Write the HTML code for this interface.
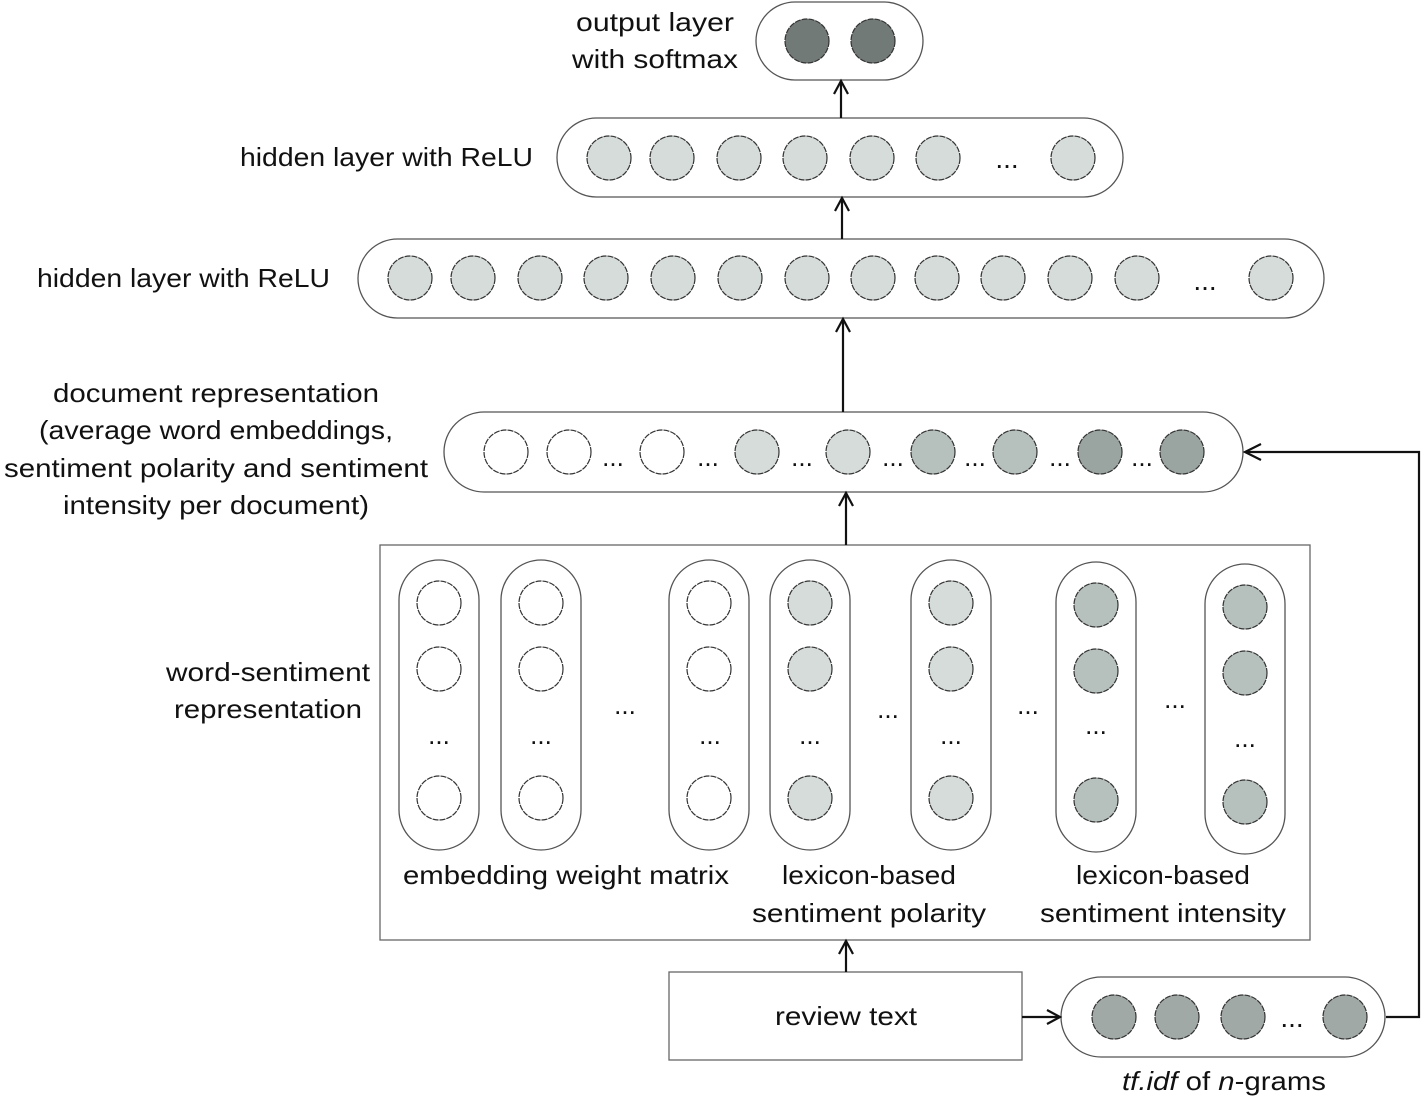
<!DOCTYPE html>
<html><head><meta charset="utf-8"><style>
html,body{margin:0;padding:0;background:#fff;}
svg{display:block;}
text{font-family:"Liberation Sans",sans-serif;font-size:26px;fill:#111;}
.p{fill:#fff;stroke:#555;stroke-width:1.3;}
.c{stroke:#333;stroke-width:1.2;stroke-dasharray:6 1;}
.w{fill:#fff}.l{fill:#d5dcd9}.m{fill:#b6c0bd}.d{fill:#9aa4a1}.t{fill:#a1a9a7}.o{fill:#727a77}
.a{stroke:#111;stroke-width:2.2;fill:none;}
.dot{font-size:28px;font-weight:normal;}
</style></head><body>
<svg width="1425" height="1108" viewBox="0 0 1425 1108" xmlns="http://www.w3.org/2000/svg">
<rect class="p" x="756" y="2" width="167" height="78" rx="39"/>
<circle class="c o" cx="807" cy="41" r="22"/><circle class="c o" cx="873" cy="41" r="22"/>
<text x="655" y="31" text-anchor="middle" textLength="158" lengthAdjust="spacingAndGlyphs">output layer</text>
<text x="655" y="68" text-anchor="middle" textLength="166" lengthAdjust="spacingAndGlyphs">with softmax</text>
<rect class="p" x="557" y="118" width="566" height="79" rx="39.5"/>
<g class="c l">
<circle cx="609" cy="158" r="22"/><circle cx="672" cy="158" r="22"/><circle cx="739" cy="158" r="22"/><circle cx="805" cy="158" r="22"/><circle cx="872" cy="158" r="22"/><circle cx="938" cy="158" r="22"/><circle cx="1073" cy="158" r="22"/>
</g>
<text class="dot" x="1007" y="168" text-anchor="middle">...</text>
<text x="533" y="166" text-anchor="end" textLength="293" lengthAdjust="spacingAndGlyphs">hidden layer with ReLU</text>
<rect class="p" x="358" y="239" width="966" height="79" rx="39.5"/>
<g class="c l">
<circle cx="410" cy="278" r="22"/><circle cx="473" cy="278" r="22"/><circle cx="540" cy="278" r="22"/><circle cx="606" cy="278" r="22"/><circle cx="673" cy="278" r="22"/><circle cx="740" cy="278" r="22"/><circle cx="807" cy="278" r="22"/><circle cx="873" cy="278" r="22"/><circle cx="937" cy="278" r="22"/><circle cx="1003" cy="278" r="22"/><circle cx="1070" cy="278" r="22"/><circle cx="1137" cy="278" r="22"/><circle cx="1271" cy="278" r="22"/>
</g>
<text class="dot" x="1205" y="290" text-anchor="middle">...</text>
<text x="330" y="287" text-anchor="end" textLength="293" lengthAdjust="spacingAndGlyphs">hidden layer with ReLU</text>
<rect class="p" x="444" y="412" width="799" height="80" rx="40"/>
<circle class="c w" cx="506" cy="452" r="22"/><circle class="c w" cx="569" cy="452" r="22"/><circle class="c w" cx="662" cy="452" r="22"/>
<circle class="c l" cx="757" cy="452" r="22"/><circle class="c l" cx="848" cy="452" r="22"/>
<circle class="c m" cx="933" cy="452" r="22"/><circle class="c m" cx="1015" cy="452" r="22"/>
<circle class="c d" cx="1100" cy="452" r="22"/><circle class="c d" cx="1182" cy="452" r="22"/>
<g class="dot" text-anchor="middle">
<text x="613" y="466">...</text><text x="708" y="466">...</text><text x="802" y="466">...</text><text x="893" y="466">...</text><text x="975" y="466">...</text><text x="1060" y="466">...</text><text x="1142" y="466">...</text>
</g>
<g text-anchor="middle">
<text x="216" y="402" textLength="326" lengthAdjust="spacingAndGlyphs">document representation</text>
<text x="216" y="439" textLength="354" lengthAdjust="spacingAndGlyphs">(average word embeddings,</text>
<text x="216" y="477" textLength="424" lengthAdjust="spacingAndGlyphs">sentiment polarity and sentiment</text>
<text x="216" y="514" textLength="306" lengthAdjust="spacingAndGlyphs">intensity per document)</text>
</g>
<rect x="380" y="545" width="930" height="395" fill="#fff" stroke="#666" stroke-width="1.3"/>
<g>
<rect class="p" x="399" y="560" width="80" height="290" rx="40"/>
<rect class="p" x="501" y="560" width="80" height="290" rx="40"/>
<rect class="p" x="669" y="560" width="80" height="290" rx="40"/>
<rect class="p" x="770" y="560" width="80" height="290" rx="40"/>
<rect class="p" x="911" y="560" width="80" height="290" rx="40"/>
<rect class="p" x="1056" y="562" width="80" height="290" rx="40"/>
<rect class="p" x="1205" y="564" width="80" height="290" rx="40"/>
</g>
<g class="c w">
<circle cx="439" cy="603" r="22"/><circle cx="439" cy="669" r="22"/><circle cx="439" cy="798" r="22"/>
<circle cx="541" cy="603" r="22"/><circle cx="541" cy="669" r="22"/><circle cx="541" cy="798" r="22"/>
<circle cx="709" cy="603" r="22"/><circle cx="709" cy="669" r="22"/><circle cx="709" cy="798" r="22"/>
</g>
<g class="c l">
<circle cx="810" cy="603" r="22"/><circle cx="810" cy="669" r="22"/><circle cx="810" cy="798" r="22"/>
<circle cx="951" cy="603" r="22"/><circle cx="951" cy="669" r="22"/><circle cx="951" cy="798" r="22"/>
</g>
<g class="c m">
<circle cx="1096" cy="605" r="22"/><circle cx="1096" cy="671" r="22"/><circle cx="1096" cy="800" r="22"/>
<circle cx="1245" cy="607" r="22"/><circle cx="1245" cy="673" r="22"/><circle cx="1245" cy="802" r="22"/>
</g>
<g class="dot" text-anchor="middle">
<text x="439" y="744">...</text><text x="541" y="744">...</text><text x="710" y="744">...</text><text x="810" y="744">...</text><text x="951" y="744">...</text><text x="1096" y="734">...</text><text x="1245" y="747">...</text>
<text x="625" y="714">...</text><text x="888" y="718">...</text><text x="1028" y="714">...</text><text x="1175" y="708">...</text>
</g>
<g text-anchor="middle">
<text x="268" y="681" textLength="204" lengthAdjust="spacingAndGlyphs">word-sentiment</text>
<text x="268" y="718" textLength="188" lengthAdjust="spacingAndGlyphs">representation</text>
<text x="566" y="884" textLength="326" lengthAdjust="spacingAndGlyphs">embedding weight matrix</text>
<text x="869" y="884" textLength="174" lengthAdjust="spacingAndGlyphs">lexicon-based</text>
<text x="869" y="922" textLength="234" lengthAdjust="spacingAndGlyphs">sentiment polarity</text>
<text x="1163" y="884" textLength="174" lengthAdjust="spacingAndGlyphs">lexicon-based</text>
<text x="1163" y="922" textLength="246" lengthAdjust="spacingAndGlyphs">sentiment intensity</text>
</g>
<rect x="669" y="972" width="353" height="88" fill="#fff" stroke="#666" stroke-width="1.3"/>
<text x="846" y="1025" text-anchor="middle" textLength="142" lengthAdjust="spacingAndGlyphs">review text</text>
<rect class="p" x="1061" y="977" width="324" height="80" rx="40"/>
<g class="c t"><circle cx="1114" cy="1017" r="22"/><circle cx="1177" cy="1017" r="22"/><circle cx="1243" cy="1017" r="22"/><circle cx="1345" cy="1017" r="22"/></g>
<text class="dot" x="1292" y="1027" text-anchor="middle">...</text>
<text x="1224" y="1090" text-anchor="middle" textLength="204" lengthAdjust="spacingAndGlyphs"><tspan font-style="italic">tf.idf</tspan> of <tspan font-style="italic">n</tspan>-grams</text>
<g class="a">
<line x1="841" y1="118" x2="841" y2="81"/><polyline points="834,94 841,81 848,94"/>
<line x1="842" y1="239" x2="842" y2="198"/><polyline points="835,211 842,198 849,211"/>
<line x1="843" y1="412" x2="843" y2="319"/><polyline points="836,332 843,319 850,332"/>
<line x1="846" y1="545" x2="846" y2="493"/><polyline points="839,506 846,493 853,506"/>
<line x1="846" y1="972" x2="846" y2="941"/><polyline points="839,954 846,941 853,954"/>
<line x1="1022" y1="1017" x2="1060" y2="1017"/><polyline points="1047,1010 1060,1017 1047,1024"/>
<polyline points="1386,1017 1419,1017 1419,452 1245,452"/><polyline points="1261,444 1245,452 1261,460"/>
</g>
</svg>
</body></html>
